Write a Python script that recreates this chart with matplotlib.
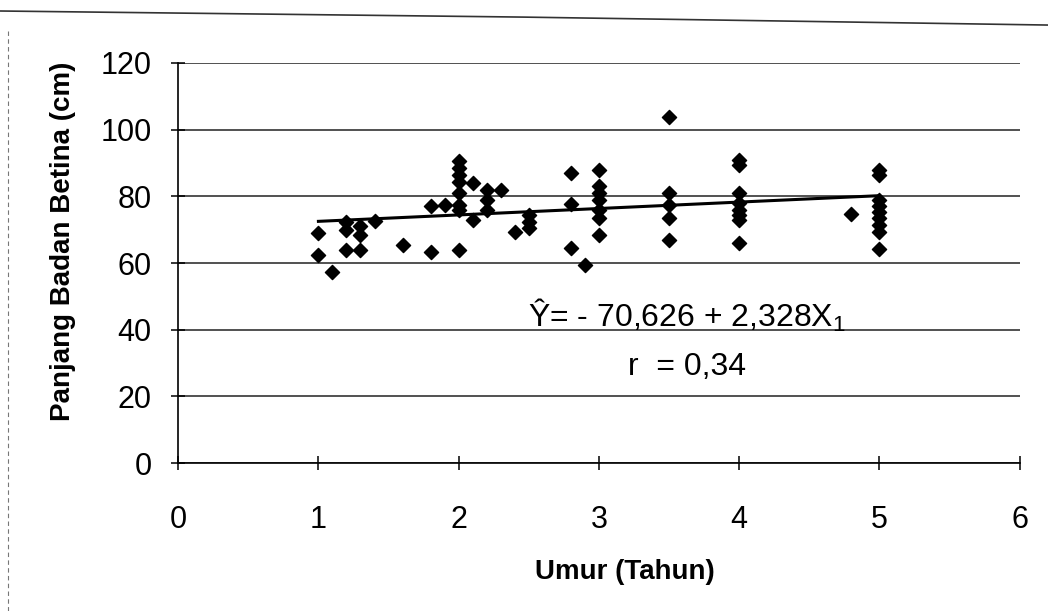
import numpy as np
import matplotlib
matplotlib.use("Agg")
import matplotlib.pyplot as plt
from matplotlib.lines import Line2D

plt.rcParams['font.family'] = ['Liberation Sans', 'DejaVu Sans']
plt.rcParams['mathtext.fontset'] = 'custom'
plt.rcParams['mathtext.rm'] = 'Liberation Sans'
plt.rcParams['mathtext.it'] = 'Liberation Sans'

# data
umur = [1, 1, 1.1, 1.2, 1.2, 1.2, 1.3, 1.3, 1.3, 1.4, 1.6, 1.8, 1.8, 1.9,
        2, 2, 2, 2, 2, 2, 2, 2, 2.1, 2.1, 2.2, 2.2, 2.2, 2.3, 2.4,
        2.5, 2.5, 2.5, 2.8, 2.8, 2.8, 2.9,
        3, 3, 3, 3, 3, 3, 3,
        3.5, 3.5, 3.5, 3.5, 3.5,
        4, 4, 4, 4, 4, 4, 4, 4,
        4.8,
        5, 5, 5, 5, 5, 5, 5, 5, 5]
panjang = [69, 62.4, 57.3, 72.3, 70, 64, 71, 68.4, 64, 72.6, 65.4, 63.3, 77, 77.4,
           90.6, 88.5, 86.4, 84.3, 81, 77.4, 76, 64, 84, 73, 82, 79, 76, 82, 69.3,
           74.4, 72.3, 70.5, 87, 77.7, 64.5, 59.4,
           88, 83, 81, 79, 76, 73.5, 68.4,
           103.8, 81, 77.4, 73.5, 67,
           91, 89.4, 81, 78, 76, 74.4, 73, 66,
           74.7,
           88, 86.4, 79, 77, 75.3, 73.5, 71.4, 69.3, 64.2]

trend_x = [1, 5]
trend_y = [72.5, 80.2]

fig = plt.figure(figsize=(10.48, 6.11), dpi=100)
ax = fig.add_axes([0.170, 0.242, 0.803, 0.655])

ax.set_xlim(0, 6)
ax.set_ylim(0, 120)
ax.set_xticks(range(0, 7))
ax.set_yticks(range(0, 121, 20))
ax.yaxis.grid(True, color='#222222', linewidth=1.1)
ax.set_axisbelow(True)

ax.plot(trend_x, trend_y, color='black', linewidth=2.2, zorder=3)
ax.scatter(umur, panjang, marker='D', s=52, color='black', zorder=4)

for s in ['top', 'right']:
    ax.spines[s].set_visible(False)
ax.spines['left'].set_linewidth(1.2)
ax.spines['bottom'].set_linewidth(1.2)
ax.tick_params(axis='both', labelsize=22, length=10, width=1.1, direction='inout')
ax.tick_params(axis='x', pad=25)
ax.tick_params(axis='y', pad=14)

ax.set_xlabel('Umur (Tahun)', fontsize=20, fontweight='bold')
ax.set_ylabel('Panjang Badan Betina (cm)', fontsize=20, fontweight='bold')
ax.xaxis.set_label_coords(0.531, -0.24)
ax.yaxis.set_label_coords(-0.121, 0.555)

ax.text(3.63, 40.8, 'Ŷ= - 70,626 + 2,328X$_1$', fontsize=23, ha='center', va='baseline')
ax.text(3.63, 26.4, 'r  = 0,34', fontsize=23, ha='center', va='baseline')

# scan artefacts: slanted frame line at the top and left border
fig.add_artist(Line2D([0.0, 0.5, 1.0], [0.982, 0.972, 0.959],
                      transform=fig.transFigure, color='#333333', linewidth=1.2))
fig.add_artist(Line2D([0.008, 0.008], [0.0, 0.95],
                      transform=fig.transFigure, color='#777777', linewidth=0.8,
                      linestyle=(0, (4, 3))))

fig.savefig('out.png', dpi=100)
